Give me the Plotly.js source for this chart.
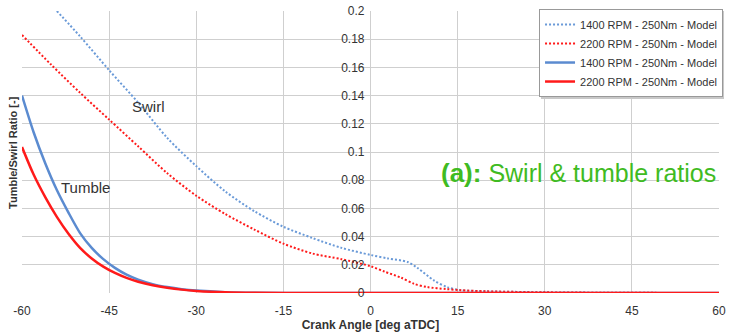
<!DOCTYPE html>
<html><head><meta charset="utf-8">
<script src="https://cdn.plot.ly/plotly-3.0.1.min.js"></script>
<style>body{margin:0;background:#fff}#chart{width:729px;height:336px}</style>
</head><body><div id="chart"></div>
<script>
const xTicks = [-60,-45,-30,-15,0,15,30,45,60];
const yTicks = [0,0.02,0.04,0.06,0.08,0.1,0.12,0.14,0.16,0.18,0.2];
const yTickLabels = ["0","0.02","0.04","0.06","0.08","0.1","0.12","0.14","0.16","0.18","0.2"];

const swirl1400X = [-54,-50,-45,-40,-35,-30,-25,-20,-15,-10,-5,0,3,6.4,8.1,10.9,13.3,15.5,20,25,30,40,60];
const swirl1400Y = [0.2,0.182,0.158,0.135,0.110,0.090,0.072,0.058,0.047,0.039,0.032,0.027,0.0245,0.022,0.0177,0.009,0.004,0.002,0.0012,0.0008,0.0005,0.0002,0];

const swirl2200X = [-60,-55,-50,-45,-40,-35,-30,-25,-20,-15,-10,-5,0,2.5,5.2,7.5,9.8,13,15.5,20,30,40,60];
const swirl2200Y = [0.183,0.162,0.142,0.123,0.104,0.085,0.069,0.056,0.045,0.035,0.028,0.024,0.019,0.015,0.011,0.0065,0.0042,0.0028,0.002,0.0012,0.0005,0.0002,0];

const tumble1400X = [-60,-58,-56,-54,-52,-50,-48,-46,-44,-42,-40,-37.5,-35,-32.5,-30,-25,-20,-10,0,60];
const tumble1400Y = [0.140,0.114,0.092,0.073,0.057,0.0425,0.032,0.024,0.0178,0.013,0.0095,0.0063,0.0042,0.0027,0.0017,0.0006,0.0002,0,0,0];

const tumble2200X = [-60,-58,-56,-54,-52,-50,-48,-46,-44,-42,-40,-37.5,-35,-32.5,-30,-25,-20,-10,0,60];
const tumble2200Y = [0.1035,0.084,0.068,0.054,0.042,0.032,0.0245,0.0187,0.0142,0.0107,0.008,0.0055,0.0037,0.0024,0.0015,0.0005,0.0001,0,0,0];

const names = ["1400 RPM - 250Nm - Model","2200 RPM - 250Nm - Model","1400 RPM - 250Nm - Model","2200 RPM - 250Nm - Model"];
const blue = "#5b8bd0", red = "#ff1a1a";

const traces = [
  {x: swirl1400X, y: swirl1400Y, name: names[0], mode:"lines", line:{color:"#6a9ad8", width:2, dash:"2px,2px", shape:"spline", smoothing:0.8}},
  {x: swirl2200X, y: swirl2200Y, name: names[1], mode:"lines", line:{color:red, width:2, dash:"2px,2px", shape:"spline", smoothing:0.8}},
  {x: tumble1400X, y: tumble1400Y, name: names[2], mode:"lines", line:{color:blue, width:2.5, shape:"spline", smoothing:0.8}},
  {x: tumble2200X, y: tumble2200Y, name: names[3], mode:"lines", line:{color:red, width:2.5, shape:"spline", smoothing:0.8}}
];

const layout = {
  width:729, height:336,
  margin:{l:22, r:10, t:11, b:43, autoexpand:false},
  paper_bgcolor:"#fff", plot_bgcolor:"#fff",
  font:{family:"Arial, Liberation Sans, sans-serif", size:12, color:"#333"},
  showlegend:true,
  legend:{x:0.7418, y:1.007, xanchor:"left", yanchor:"top", bgcolor:"#fff", bordercolor:"#999", borderwidth:1,
          font:{size:11, color:"#333"}},
  shapes:[
    {type:"rect", xref:"paper", yref:"paper", x0:0.7446, x1:1.0072, y0:0.688, y1:1.0, fillcolor:"#c8c8c8", line:{width:0}, layer:"above"}
  ],
  xaxis:{range:[-60,60], tickvals:xTicks, ticktext:xTicks.map(String), showgrid:true, gridcolor:"#cfcfcf", gridwidth:1,
         zeroline:false, showline:false, ticks:"", ticklabelstandoff:9, tickfont:{size:12, color:"#333"},
         title:{text:"<b>Crank Angle [deg aTDC]</b>", font:{size:12, color:"#333"}, standoff:3}},
  yaxis:{range:[0,0.2], tickvals:yTicks, ticktext:yTickLabels, showgrid:true, gridcolor:"#cfcfcf", gridwidth:1,
         zeroline:false, showline:false, ticks:"", anchor:"free", position:0.5, ticklabelstandoff:6, tickfont:{size:12, color:"#333"}},
  annotations:[
    {xref:"paper", yref:"paper", x:-0.013, y:0.5, xanchor:"center", yanchor:"middle", textangle:-90, showarrow:false,
     text:"<b>Tumble/Swirl Ratio [-]</b>", font:{size:11, color:"#333"}},
    {xref:"x", yref:"y", x:-38.3, y:0.132, showarrow:false, text:"Swirl", font:{size:15, color:"#333"}},
    {xref:"x", yref:"y", x:-49.1, y:0.075, showarrow:false, text:"Tumble", font:{size:15, color:"#333"}},
    {xref:"paper", yref:"paper", x:0.9986, y:0.425, xanchor:"right", yanchor:"middle", showarrow:false,
     text:"<span style='font-size:26px'><b>(a):</b></span> Swirl &amp; tumble ratios", font:{size:25, color:"#3fbb22", family:"Liberation Sans, Arial, sans-serif"}}
  ]
};
Plotly.newPlot("chart", traces, layout, {displayModeBar:false, staticPlot:true});
</script></body></html>
